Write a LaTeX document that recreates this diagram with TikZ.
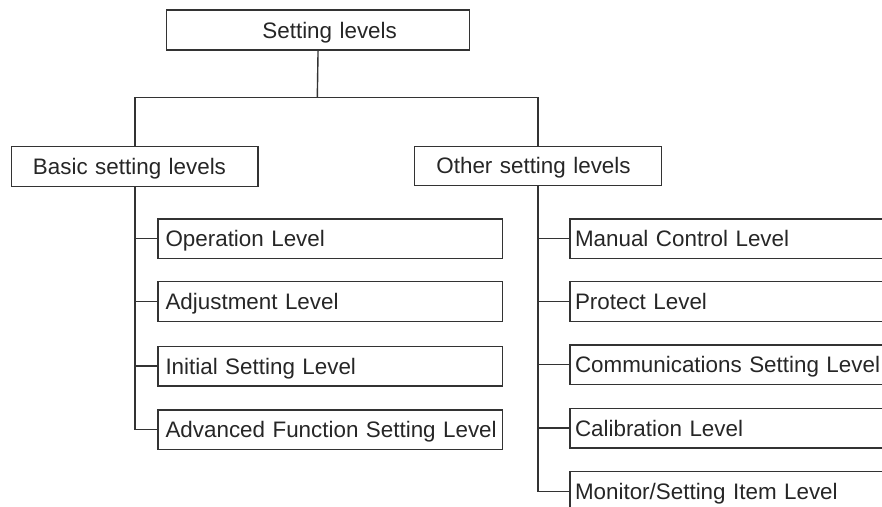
\documentclass[tikz,border=0pt]{standalone}
\usepackage{fontspec}
\setmainfont{Liberation Sans}
\begin{document}
\begin{tikzpicture}[x=1pt,y=-1pt,
  lvbox/.style={draw=black!80, line width=1.4pt, rectangle, anchor=north west,
    inner sep=0pt, align=left, text height=16pt, text depth=0pt,
    text=black!85, font=\fontsize{22.4}{26}\selectfont},
  conn/.style={draw=black!80, line width=1.4pt}]
\useasboundingbox (0,0) rectangle (882,506);
\clip (0,0) rectangle (882,506);
% top
\node[lvbox, minimum height=40pt, text width=303.3pt] (top) at (165.7,9.3) {\hspace*{96pt}Setting levels};
% second level
\node[lvbox, minimum height=40pt, text width=246.3pt] (basic) at (11,146) {\hspace*{21.3pt}Basic setting levels};
\node[lvbox, minimum height=39.5pt, text width=247.3pt] (other) at (413.7,145.5) {\hspace*{22pt}Other setting levels};
% left children
\node[lvbox, minimum height=39.5pt, text width=344.7pt] (op) at (157.3,218.3) {\hspace*{7.5pt}Operation Level};
\node[lvbox, minimum height=39.5pt, text width=344.7pt] (adj) at (157.3,281) {\hspace*{7.5pt}Adjustment Level};
\node[lvbox, minimum height=39.5pt, text width=344.7pt] (ini) at (157.3,345.7) {\hspace*{7.5pt}Initial Setting Level};
\node[lvbox, minimum height=39.5pt, text width=344.7pt] (adv) at (157.3,409.3) {\hspace*{7.5pt}Advanced Function Setting Level};
% right children (run past the right edge)
\node[lvbox, minimum height=39.5pt, text width=340pt] (man) at (569.3,218.3) {\hspace*{5pt}Manual Control Level};
\node[lvbox, minimum height=39.5pt, text width=340pt] (pro) at (569.3,281) {\hspace*{5pt}Protect Level};
\node[lvbox, minimum height=39.5pt, text width=340pt] (com) at (569.3,344.3) {\hspace*{5pt}Communications Setting Level};
\node[lvbox, minimum height=39.5pt, text width=340pt] (cal) at (569.3,407.7) {\hspace*{5pt}Calibration Level};
\node[lvbox, minimum height=39.5pt, text width=340pt] (mon) at (569.3,471) {\hspace*{5pt}Monitor/Setting Item Level};
% connectors
\coordinate (bus) at (317.3,97.3);
\draw[conn] (top.south) -- (bus);
\draw[conn] (basic.north) |- (bus) -| (other.north);
\draw[conn] (basic.south) |- (adv.west);
\draw[conn] (basic.south |- op.west) -- (op.west);
\draw[conn] (basic.south |- adj.west) -- (adj.west);
\draw[conn] (basic.south |- ini.west) -- (ini.west);
\draw[conn] (other.south) |- (mon.west);
\draw[conn] (other.south |- man.west) -- (man.west);
\draw[conn] (other.south |- pro.west) -- (pro.west);
\draw[conn] (other.south |- com.west) -- (com.west);
\draw[conn] (other.south |- cal.west) -- (cal.west);
\end{tikzpicture}
\end{document}
